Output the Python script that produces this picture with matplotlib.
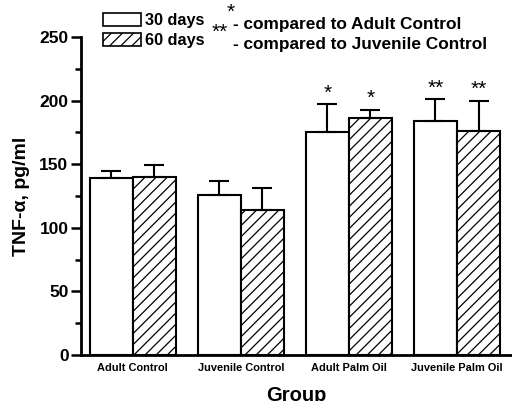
import matplotlib
matplotlib.use("Agg")
import matplotlib.pyplot as plt
import numpy as np
from matplotlib.patches import Patch
from matplotlib.ticker import MultipleLocator

plt.rcParams['font.family'] = ['Liberation Sans', 'DejaVu Sans']
plt.rcParams['font.weight'] = 'bold'
plt.rcParams['hatch.linewidth'] = 0.9

groups = ["Adult Control", "Juvenile Control", "Adult Palm Oil", "Juvenile Palm Oil"]
days30 = [139, 126, 175, 184]
days30_err = [6, 11, 22, 17]
days60 = [140, 114, 186, 176]
days60_err = [9, 17, 7, 24]
marks30 = ["", "", "*", "**"]
marks60 = ["", "", "*", "**"]

fig = plt.figure(figsize=(5.12, 4.01), dpi=100)
ax = fig.add_axes([81/512, 1-355/401, (512-81)/512, (355-37)/401])

x = np.arange(len(groups))
w = 0.4
err_kw = dict(ecolor='black', elinewidth=1.5, capsize=7, capthick=1.5)
b1 = ax.bar(x - w/2, days30, w, color='white', edgecolor='black', linewidth=1.5,
            yerr=[np.zeros(len(days30)), days30_err], error_kw=err_kw, zorder=2)
b2 = ax.bar(x + w/2, days60, w, color='white', edgecolor='black', linewidth=1.5,
            hatch='///', yerr=[np.zeros(len(days60)), days60_err], error_kw=err_kw, zorder=2)

for xi, v, e, m in zip(x - w/2, days30, days30_err, marks30):
    if m:
        ax.text(xi, v + e + 1, m, ha='center', va='bottom', fontsize=15, fontweight='normal')
for xi, v, e, m in zip(x + w/2, days60, days60_err, marks60):
    if m:
        ax.text(xi, v + e + 1, m, ha='center', va='bottom', fontsize=15, fontweight='normal')

ax.set_xlim(-0.48, 3.51)
ax.set_ylim(0, 250)
ax.yaxis.set_major_locator(MultipleLocator(50))
ax.yaxis.set_minor_locator(MultipleLocator(25))
ax.set_xticks(x)
ax.set_xticklabels(groups, fontsize=7.9, fontweight='bold')
ax.tick_params(axis='x', length=0, pad=6)
ax.tick_params(axis='y', which='major', length=7, width=1.8, labelsize=12.5, direction='out', pad=2)
ax.tick_params(axis='y', which='minor', length=4, width=1.8, direction='out')
for lbl in ax.get_yticklabels():
    lbl.set_fontweight('bold')
ax.spines['top'].set_visible(False)
ax.spines['right'].set_visible(False)
ax.spines['left'].set_linewidth(2)
ax.spines['bottom'].set_linewidth(2)

ax.set_ylabel("TNF-α, pg/ml", fontsize=14, fontweight='bold', labelpad=7)
fig.text((267+325)/2/512, 1-386/401, "Group", fontsize=14.5, fontweight='bold',
         ha='center', va='top')

handles = [Patch(facecolor='white', edgecolor='black', linewidth=1.2),
           Patch(facecolor='white', edgecolor='black', linewidth=1.2, hatch='///')]
fig.legend(handles, ["30 days", "60 days"], loc='upper left',
           bbox_to_anchor=(100/512, 1-10/401), frameon=False, fontsize=11.7,
           handlelength=2.3, handleheight=0.8, handletextpad=0.25, labelspacing=0.3,
           borderpad=0.2, borderaxespad=0)

fig.text(227/512, 1-12/401, "*", fontsize=15, fontweight='normal', va='center')
fig.text(233/512, 1-24/401, "- compared to Adult Control", fontsize=12.4, fontweight='bold', va='center')
fig.text(212/512, 1-32/401, "**", fontsize=15, fontweight='normal', va='center')
fig.text(233/512, 1-44/401, "- compared to Juvenile Control", fontsize=12.4, fontweight='bold', va='center')

fig.savefig("out.png", dpi=100)
